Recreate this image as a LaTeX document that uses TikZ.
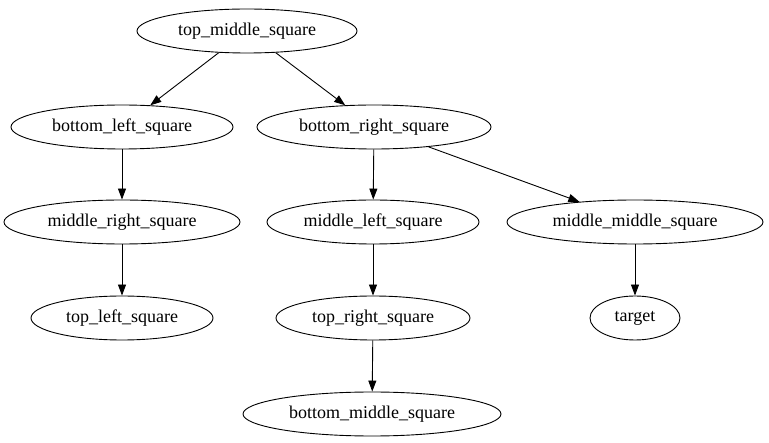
\documentclass[tikz,border=0pt]{standalone}
\usepackage{fontspec}
\setmainfont{Liberation Serif}
\usetikzlibrary{shapes.geometric,arrows.meta}
\begin{document}
\begin{tikzpicture}[x=1pt,y=-1pt,
  nd/.style={draw,ellipse,inner sep=0pt,minimum height=44pt,font=\fontsize{18}{20}\selectfont,line width=0.9pt},
  ed/.style={-{Triangle[length=11pt,width=8pt]},line width=0.9pt}]
\useasboundingbox (0,0) rectangle (769,443);
\node[nd,minimum width=220pt] (tms) at (247,31) {top\_middle\_square};
\node[nd,minimum width=222pt] (bls) at (122,127) {bottom\_left\_square};
\node[nd,minimum width=234pt] (brs) at (374,127) {bottom\_right\_square};
\node[nd,minimum width=236pt] (mrs) at (122,222) {middle\_right\_square};
\node[nd,minimum width=212pt] (mls) at (373,222) {middle\_left\_square};
\node[nd,minimum width=256pt] (mms) at (635,222) {middle\_middle\_square};
\node[nd,minimum width=182pt] (tls) at (122,318) {top\_left\_square};
\node[nd,minimum width=194pt] (trs) at (373,318) {top\_right\_square};
\node[nd,minimum width=90pt] (tg) at (635,318) {target};
\node[nd,minimum width=258pt] (bms) at (372,414) {bottom\_middle\_square};
\draw[ed] (tms) -- (bls);
\draw[ed] (tms) -- (brs);
\draw[ed] (bls) -- (mrs);
\draw[ed] (brs) -- (mls);
\draw[ed] (brs) -- (mms);
\draw[ed] (mrs) -- (tls);
\draw[ed] (mls) -- (trs);
\draw[ed] (mms) -- (tg);
\draw[ed] (trs) -- (bms);
\end{tikzpicture}
\end{document}
